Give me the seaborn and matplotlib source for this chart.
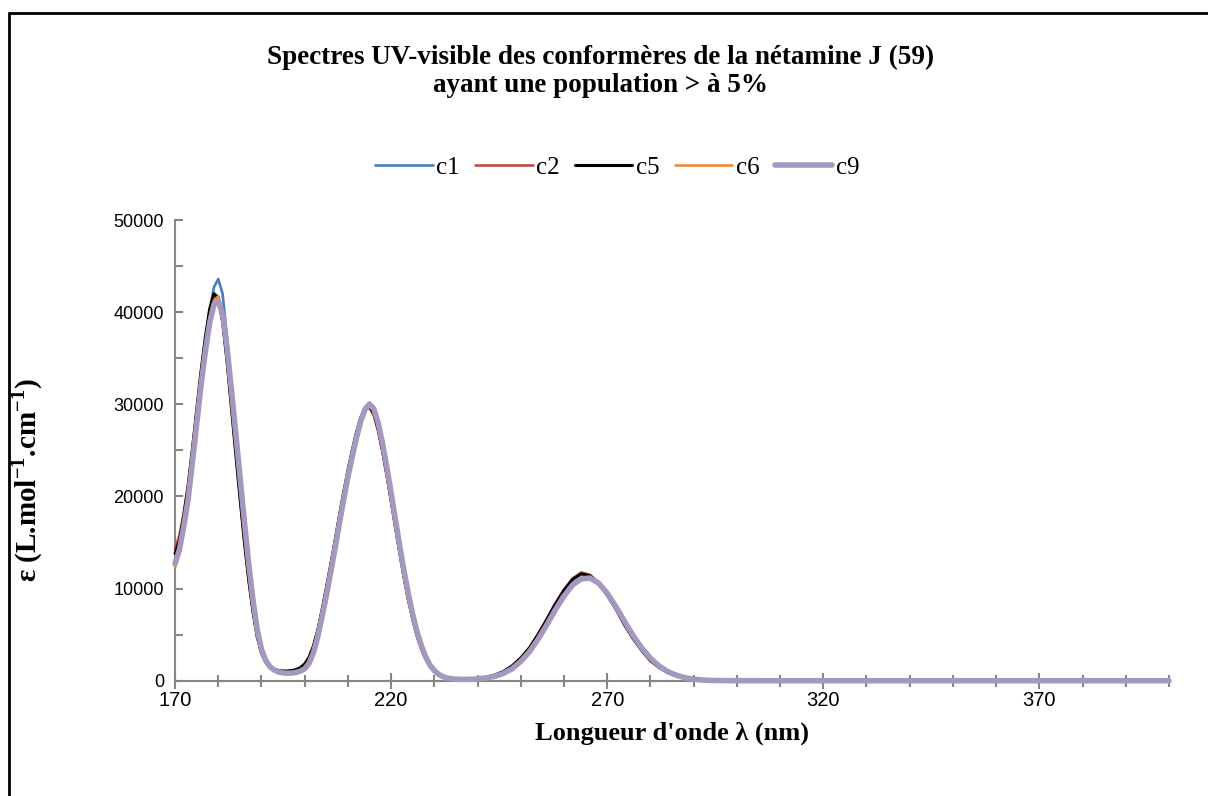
import matplotlib
matplotlib.use("Agg")
import matplotlib.pyplot as plt
from matplotlib.lines import Line2D
import seaborn as sns
import pandas as pd

# longueurs d'onde (nm)
wavelengths = list(range(170, 241)) + list(range(242, 301, 2)) + list(range(310, 401, 10))

c1 = [12600, 14000, 16500, 19500, 23600, 28000, 32500, 36600, 40200, 42700,
      43600, 42000, 37400, 32200, 27200, 22300, 17400, 12800, 8800, 5500,
      3300, 2100, 1450, 1100, 900, 800, 780, 800, 880, 1030,
      1280, 1850, 2900, 4500, 6700, 9000, 11500, 14100, 16800, 19400,
      21900, 24200, 26300, 28200, 29600, 30100, 29700, 28200, 26000, 23400,
      20600, 17700, 14800, 12100, 9600, 7400, 5500, 3900, 2700, 1800,
      1150, 720, 460, 300, 220, 170, 150, 140, 150, 170, 200,
      290, 460, 770, 1250, 2020, 3050, 4400, 5950, 7600, 9100,
      10300, 11000, 11200, 10700, 9650, 8200, 6600, 5000, 3650, 2500,
      1650, 1050, 630, 350, 180, 85, 42, 20, 10, 5,
      0, 0, 0, 0, 0, 0, 0, 0, 0, 0]

c2 = [14400, 15700, 18200, 21300, 25200, 29400, 33500, 37100, 40100, 41700,
      41400, 38900, 34800, 29900, 24900, 20000, 15300, 11100, 7600, 4800,
      3000, 2000, 1500, 1250, 1100, 1050, 1050, 1100, 1200, 1450,
      1850, 2600, 3800, 5500, 7700, 10100, 12600, 15200, 17800, 20300,
      22700, 24800, 26800, 28400, 29400, 29600, 28800, 27100, 24800, 22200,
      19400, 16600, 13800, 11100, 8700, 6600, 4800, 3400, 2300, 1500,
      950, 620, 400, 270, 190, 150, 140, 140, 160, 190, 240,
      370, 610, 1000, 1620, 2500, 3600, 5050, 6700, 8400, 9900,
      11100, 11750, 11500, 10650, 9300, 7750, 6050, 4550, 3250, 2150,
      1400, 870, 500, 280, 140, 65, 30, 14, 6, 3,
      0, 0, 0, 0, 0, 0, 0, 0, 0, 0]

c5 = [13800, 15200, 17800, 21000, 25000, 29300, 33500, 37200, 40300, 42000,
      41600, 39000, 34800, 29900, 24900, 20000, 15300, 11100, 7600, 4800,
      3000, 2000, 1500, 1250, 1100, 1050, 1050, 1100, 1200, 1400,
      1800, 2500, 3700, 5400, 7600, 10000, 12500, 15100, 17800, 20400,
      22800, 25000, 27000, 28600, 29600, 29800, 29000, 27300, 25000, 22400,
      19600, 16700, 13900, 11200, 8800, 6700, 4900, 3500, 2400, 1600,
      1000, 650, 420, 280, 200, 160, 150, 150, 170, 200, 250,
      380, 620, 1000, 1600, 2450, 3550, 5000, 6600, 8300, 9800,
      11000, 11600, 11400, 10600, 9300, 7800, 6100, 4600, 3300, 2200,
      1450, 900, 520, 290, 150, 70, 35, 15, 7, 3,
      0, 0, 0, 0, 0, 0, 0, 0, 0, 0]

c6 = [12300, 13800, 16300, 19400, 23500, 27900, 32300, 36200, 39400, 41300,
      41700, 40200, 36600, 32000, 27200, 22300, 17500, 12900, 8900, 5600,
      3400, 2200, 1500, 1150, 950, 850, 820, 830, 900, 1050,
      1300, 1900, 3000, 4750, 7000, 9400, 11900, 14500, 17200, 19800,
      22300, 24500, 26600, 28400, 29700, 30200, 29700, 28100, 25900, 23300,
      20400, 17500, 14600, 11900, 9400, 7200, 5300, 3800, 2600, 1700,
      1100, 700, 450, 300, 220, 170, 150, 140, 150, 170, 200,
      300, 480, 800, 1300, 2100, 3150, 4500, 6050, 7700, 9200,
      10400, 11050, 11150, 10600, 9500, 8050, 6450, 4900, 3550, 2450,
      1600, 1000, 600, 330, 170, 80, 40, 20, 10, 5,
      0, 0, 0, 0, 0, 0, 0, 0, 0, 0]

c9 = [12700, 14200, 16700, 19600, 23600, 27800, 32000, 35700, 38800, 40800,
      41200, 39800, 36300, 31800, 27100, 22300, 17500, 12900, 8900, 5600,
      3400, 2200, 1500, 1150, 950, 850, 820, 830, 900, 1050,
      1300, 1900, 3000, 4700, 6900, 9200, 11700, 14300, 17000, 19600,
      22100, 24300, 26400, 28200, 29500, 30000, 29500, 28000, 25800, 23200,
      20400, 17500, 14600, 11900, 9400, 7200, 5300, 3800, 2600, 1700,
      1100, 700, 450, 300, 220, 170, 150, 140, 150, 170, 200,
      300, 480, 800, 1300, 2100, 3150, 4500, 6050, 7700, 9200,
      10400, 11050, 11150, 10600, 9500, 8050, 6450, 4900, 3550, 2450,
      1600, 1000, 600, 330, 170, 80, 40, 20, 10, 5,
      0, 0, 0, 0, 0, 0, 0, 0, 0, 0]

conformers = ["c1", "c2", "c5", "c6", "c9"]
series = [c1, c2, c5, c6, c9]
colors = {"c1": "#4A7EBB", "c2": "#BE4B48", "c5": "#000000", "c6": "#F0883E", "c9": "#A598BF"}
widths = {"c1": 1.9, "c2": 1.9, "c5": 2.2, "c6": 1.9, "c9": 4.0}

x_major = [170, 220, 270, 320, 370]
x_minor = list(range(170, 401, 10))
y_major = [0, 10000, 20000, 30000, 40000, 50000]
y_minor = list(range(0, 50001, 5000))

df = pd.DataFrame({
    "wavelength": wavelengths * len(conformers),
    "epsilon": sum(series, []),
    "conformer": [c for c in conformers for _ in wavelengths],
})

sns.set_theme(style="white")
plt.rcParams["font.family"] = ["Liberation Serif", "DejaVu Serif"]
plt.rcParams["text.color"] = "black"
plt.rcParams["mathtext.fontset"] = "custom"
plt.rcParams["mathtext.rm"] = "Liberation Serif"
plt.rcParams["mathtext.bf"] = "Liberation Serif:bold"

fig = plt.figure(figsize=(12.08, 7.96), dpi=100)
ax = fig.add_axes([0.1449, 0.1448, 0.8228, 0.5788])

for name in conformers:
    sub = df[df["conformer"] == name]
    sns.lineplot(data=sub, x="wavelength", y="epsilon", ax=ax, color=colors[name],
                 linewidth=widths[name], estimator=None, sort=False, legend=False,
                 zorder=3, clip_on=False)

ax.set_xlim(170, 400)
ax.set_ylim(0, 50000)
ax.set_xticks(x_major)
ax.set_xticks(x_minor, minor=True)
ax.set_yticks(y_major)
ax.set_yticks(y_minor, minor=True)

axis_col = "#868686"
for side in ["top", "right"]:
    ax.spines[side].set_visible(False)
for side in ["left", "bottom"]:
    ax.spines[side].set_color(axis_col)
    ax.spines[side].set_linewidth(1.5)

tick_font = "Liberation Sans"
ax.tick_params(axis="x", which="major", bottom=True, direction="inout", length=11, width=1.5,
               color=axis_col, pad=2, labelsize=14.5, labelcolor="black")
ax.tick_params(axis="x", which="minor", bottom=True, direction="inout", length=8, width=1.5,
               color=axis_col)
ax.tick_params(axis="y", which="both", left=True, direction="in", length=5.5, width=1.5,
               color=axis_col, pad=8, labelsize=13, labelcolor="black")
for lab in ax.get_xticklabels() + ax.get_yticklabels():
    lab.set_fontfamily(tick_font)

ax.set_xlabel("")
ax.set_ylabel("")
fig.text(0.556, 0.079, "Longueur d'onde λ (nm)", ha="center", va="center",
         fontsize=19, fontweight="bold")
fig.text(0.0225, 0.397, r"ε (L.mol$^{\mathbf{-1}}$.cm$^{\mathbf{-1}}$)", ha="center",
         va="center", rotation=90, fontsize=21, fontweight="bold")

fig.text(0.497, 0.9105, "Spectres UV-visible des conformères de la nétamine J (59)\n"
         "ayant une population > à 5%", ha="center", va="center",
         fontsize=19.5, fontweight="bold", linespacing=1.15)

handles = [Line2D([], [], color=colors[n], linewidth=widths[n]) for n in conformers]
fig.legend(handles, conformers, loc="center", bbox_to_anchor=(0.511, 0.789), ncol=5,
           frameon=False, fontsize=18, handlelength=2.3, handletextpad=0.15,
           columnspacing=0.6)

# cadre du graphique
fig.add_artist(Line2D([8.5 / 1208, 1.0], [1 - 12.7 / 796] * 2,
                      transform=fig.transFigure, color="black", linewidth=2))
fig.add_artist(Line2D([8.5 / 1208] * 2, [0.0, 1 - 12.7 / 796],
                      transform=fig.transFigure, color="black", linewidth=2))

fig.savefig("out.png", dpi=100)
plt.close(fig)
